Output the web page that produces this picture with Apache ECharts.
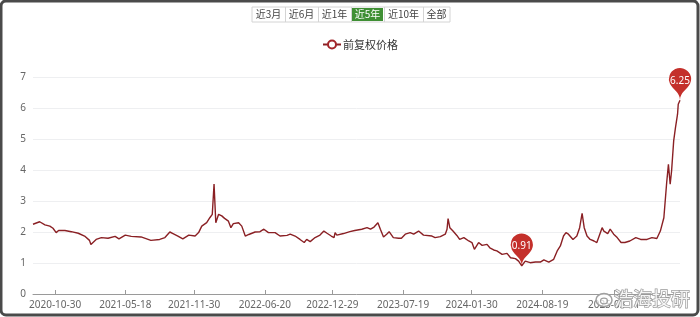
<!DOCTYPE html>
<html>
<head>
<meta charset="utf-8">
<script src="https://cdn.jsdelivr.net/npm/echarts@6/dist/echarts.min.js"></script>
<style>html,body{margin:0;padding:0;background:#fff;}#c{width:700px;height:317px;}</style>
</head>
<body>
<div id="c"></div>
<script>
const seriesName = '前复权价格';
const rangeButtons = ['近3月', '近6月', '近1年', '近5年', '近10年', '全部'];
const activeButton = '近5年';
const tickDates = ['2020-10-30', '2021-05-18', '2021-11-30', '2022-06-20', '2022-12-29', '2023-07-19', '2024-01-30', '2024-08-19', '2025-03-11'];
const yTicks = [0, 1, 2, 3, 4, 5, 6, 7];
const dates = [
'2020-08-28','2020-09-16','2020-10-01','2020-10-15','2020-10-24','2020-11-02','2020-11-09','2020-11-27','2020-12-15',
'2021-01-04','2021-01-22','2021-02-05','2021-02-09','2021-02-24','2021-03-11','2021-03-30','2021-04-19','2021-04-30',
'2021-05-18','2021-06-04','2021-07-02','2021-07-30','2021-08-24','2021-09-08','2021-09-22','2021-10-01','2021-10-15',
'2021-10-29','2021-11-15','2021-12-03','2021-12-13','2021-12-22','2022-01-05','2022-01-14','2022-01-21','2022-01-26',
'2022-01-31','2022-02-08','2022-02-17','2022-02-25','2022-03-08','2022-03-15','2022-03-22','2022-04-06','2022-04-15',
'2022-04-25','2022-05-05','2022-05-23','2022-06-06','2022-06-17','2022-06-30','2022-07-19','2022-08-02','2022-08-22',
'2022-08-31','2022-09-14','2022-09-28','2022-10-10','2022-10-17','2022-10-27','2022-11-10','2022-11-24','2022-12-05',
'2022-12-14','2022-12-26','2023-01-03','2023-01-06','2023-01-11','2023-01-30','2023-02-17','2023-03-03','2023-03-23',
'2023-04-07','2023-04-17','2023-04-27','2023-05-08','2023-05-15','2023-05-24','2023-06-02','2023-06-09','2023-06-21',
'2023-07-06','2023-07-14','2023-07-25','2023-08-08','2023-08-18','2023-09-01','2023-09-15','2023-10-09','2023-10-18',
'2023-11-02','2023-11-16','2023-11-21','2023-11-24','2023-11-29','2023-12-08','2023-12-19','2023-12-27','2024-01-08',
'2024-01-22','2024-01-31','2024-02-07','2024-02-19','2024-02-29','2024-03-14','2024-03-22','2024-04-02','2024-04-11',
'2024-04-26','2024-05-10','2024-05-20','2024-06-03','2024-06-12','2024-06-21','2024-07-01','2024-07-15','2024-07-30',
'2024-08-13','2024-08-23','2024-09-06','2024-09-20','2024-09-30','2024-10-09','2024-10-18','2024-10-25','2024-11-01',
'2024-11-06','2024-11-14','2024-11-25','2024-12-03','2024-12-10','2024-12-16','2024-12-24','2025-01-02','2025-01-13',
'2025-01-21','2025-02-05','2025-02-10','2025-02-14','2025-02-21','2025-02-28','2025-03-10','2025-03-20','2025-03-31',
'2025-04-11','2025-04-25','2025-05-12','2025-05-26','2025-06-13','2025-06-27','2025-07-11','2025-07-21','2025-07-31',
'2025-08-08','2025-08-13','2025-08-18','2025-08-22','2025-08-28','2025-09-02','2025-09-08','2025-09-10','2025-09-15'
];
const prices = [
2.25,2.33,2.23,2.19,2.12,1.98,2.05,2.05,2.01,
1.96,1.87,1.73,1.60,1.76,1.82,1.80,1.86,1.78,
1.90,1.86,1.84,1.73,1.76,1.82,2.00,1.95,1.87,
1.78,1.90,1.87,1.98,2.19,2.30,2.46,2.57,3.55,
2.30,2.57,2.52,2.44,2.35,2.14,2.27,2.30,2.19,
1.87,1.92,2.00,2.01,2.09,1.98,1.98,1.87,1.89,
1.93,1.87,1.76,1.66,1.76,1.69,1.82,1.90,2.03,
1.96,1.87,1.82,1.98,1.90,1.95,2.01,2.05,2.09,
2.14,2.09,2.16,2.30,2.09,1.84,1.93,2.01,1.82,
1.80,1.80,1.93,1.98,1.93,2.03,1.90,1.87,1.82,
1.85,1.93,2.09,2.43,2.14,2.03,1.89,1.76,1.82,
1.71,1.66,1.44,1.66,1.57,1.60,1.49,1.42,1.39,
1.28,1.31,1.17,1.14,1.06,0.91,1.06,1.01,1.03,
1.03,1.10,1.03,1.12,1.39,1.55,1.87,1.98,1.93,
1.98,1.76,1.87,2.14,2.60,2.14,1.87,1.76,1.71,
1.66,2.14,2.03,2.09,1.95,2.09,1.93,1.82,1.66,
1.66,1.71,1.82,1.76,1.76,1.82,1.79,2.03,2.46,
3.59,4.18,3.54,3.97,4.94,5.36,5.80,6.12,6.25
];

function toTs(d) { return new Date(d + 'T00:00:00').getTime(); }
function pad(n) { return (n < 10 ? '0' : '') + n; }
function fmt(v) { const d = new Date(v); return d.getFullYear() + '-' + pad(d.getMonth() + 1) + '-' + pad(d.getDate()); }

const seriesData = dates.map((d, i) => [toTs(d), prices[i]]);
const tickTs = tickDates.map(toTs);

const btnEdges = [252, 285, 318, 351, 384, 423, 450];
const graphics = [];
graphics.push({ type: 'rect', shape: { x: btnEdges[0], y: 7, width: btnEdges[6] - btnEdges[0], height: 15 }, style: { fill: '#fff', stroke: '#d4d4d4', lineWidth: 1 }, z: 10 });
rangeButtons.forEach((t, i) => {
  const x0 = btnEdges[i], x1 = btnEdges[i + 1];
  const active = t === activeButton;
  if (active) graphics.push({ type: 'rect', shape: { x: x0 + 1, y: 8, width: x1 - x0 - 2, height: 13 }, style: { fill: '#3f8f34' }, z: 11 });
  if (i > 0) graphics.push({ type: 'line', shape: { x1: x0 + 0.5, y1: 7, x2: x0 + 0.5, y2: 22 }, style: { stroke: '#d4d4d4', lineWidth: 1 }, z: 11 });
  graphics.push({ type: 'text', x: (x0 + x1) / 2, y: 14.5, style: { text: t, fill: active ? '#fff' : '#444', font: '10px "Noto Sans CJK SC", sans-serif', align: 'center', verticalAlign: 'middle' }, z: 12 });
});
graphics.push({ type: 'ellipse', shape: { cx: 604, cy: 300, rx: 8, ry: 6.5 }, style: { fill: 'rgba(255,255,255,0.7)', stroke: '#a0a0a0', lineWidth: 1.5 }, z: 20 });
graphics.push({ type: 'ellipse', shape: { cx: 604, cy: 301, rx: 3.5, ry: 2.8 }, style: { fill: 'none', stroke: '#a0a0a0', lineWidth: 1.2 }, z: 20 });
graphics.push({ type: 'text', x: 614, y: 299, style: { text: '浩海投研', fill: 'rgba(255,255,255,0.9)', stroke: '#9a9a9a', lineWidth: 1.4, font: '19px "Noto Sans CJK SC", sans-serif', verticalAlign: 'middle' }, z: 20 });
graphics.push({ type: 'rect', shape: { x: 1, y: 1, width: 697, height: 314, r: 5 }, style: { fill: 'none', stroke: '#4a4a4a', lineWidth: 3 }, z: 30 });

const chart = echarts.init(document.getElementById('c'), null, { renderer: 'canvas' });
chart.setOption({
  animation: false,
  backgroundColor: '#fff',
  textStyle: { fontFamily: '"Noto Sans", "Noto Sans CJK SC", sans-serif' },
  graphic: graphics,
  legend: {
    left: 317, top: 34,
    itemWidth: 18, itemHeight: 10, itemGap: 5,
    textStyle: { fontSize: 11, color: '#333', fontFamily: '"Noto Sans CJK SC", sans-serif', padding: [0, 0, 0, -3] },
    data: [seriesName]
  },
  grid: { left: 33, right: 20, top: 77, bottom: 23 },
  xAxis: {
    type: 'value',
    min: toTs(dates[0]),
    max: toTs(dates[dates.length - 1]),
    axisLine: { show: true, lineStyle: { color: '#9a9a9a', width: 1 } },
    axisTick: { show: true, inside: true, length: 4, customValues: tickTs, lineStyle: { color: '#9a9a9a' } },
    axisLabel: { customValues: tickTs, formatter: fmt, color: '#666', fontSize: 10, margin: 6, hideOverlap: false },
    splitLine: { show: false }
  },
  yAxis: {
    type: 'value',
    min: yTicks[0], max: yTicks[yTicks.length - 1], interval: 1,
    axisLine: { show: false },
    axisTick: { show: false },
    axisLabel: { color: '#666', fontSize: 10, margin: 7 },
    splitLine: { lineStyle: { color: '#eeeff1', width: 1 } }
  },
  series: [{
    name: seriesName,
    type: 'line',
    data: seriesData,
    showSymbol: false,
    symbol: 'emptyCircle',
    symbolSize: 7,
    itemStyle: { color: '#a3262a' },
    lineStyle: { color: '#8a2024', width: 1.4 },
    markPoint: {
      symbol: 'pin',
      symbolSize: 37,
      itemStyle: { color: '#c4302b' },
      label: { color: '#fff', fontSize: 10, formatter: p => Number(p.value).toFixed(2) },
      data: [{ type: 'max' }, { type: 'min' }]
    }
  }]
});
</script>
</body>
</html>
